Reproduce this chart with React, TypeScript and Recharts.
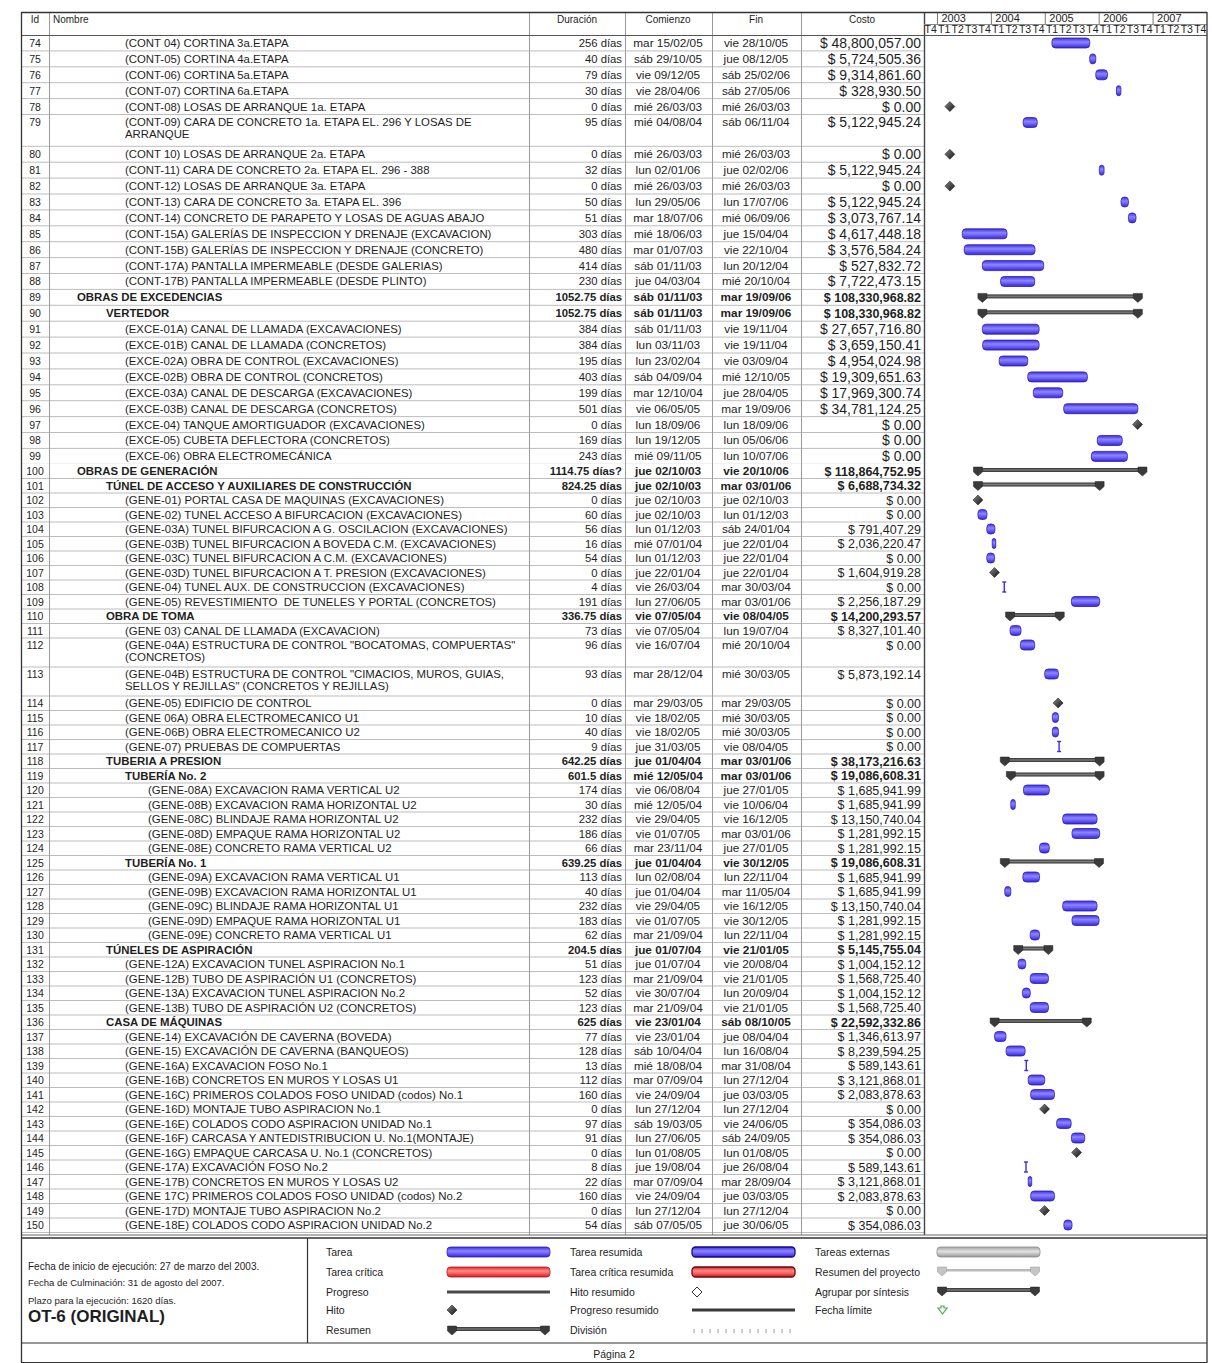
import React from "react";
import { BarChart, Bar, XAxis, YAxis, CartesianGrid } from "recharts";

document.body.style.margin = "0";

const FONT = "'Liberation Sans', Arial, Helvetica, sans-serif";
const INK = "#1e1e1e";

// ---------- table / gantt data ----------
const taskIds = [
  74, 75, 76, 77, 78, 79, 80, 81, 82, 83, 84, 85, 86, 87, 88, 89, 90, 91, 92, 93, 94, 95, 96, 97, 98, 99,
  100, 101, 102, 103, 104, 105, 106, 107, 108, 109, 110, 111, 112, 113, 114, 115, 116, 117, 118, 119, 120,
  121, 122, 123, 124, 125, 126, 127, 128, 129, 130, 131, 132, 133, 134, 135, 136, 137, 138, 139, 140, 141,
  142, 143, 144, 145, 146, 147, 148, 149, 150,
];

const taskNames = [
  "(CONT 04) CORTINA 3a.ETAPA",
  "(CONT-05) CORTINA 4a.ETAPA",
  "(CONT-06) CORTINA 5a.ETAPA",
  "(CONT-07) CORTINA 6a.ETAPA",
  "(CONT-08) LOSAS DE ARRANQUE 1a. ETAPA",
  "(CONT-09) CARA DE CONCRETO 1a. ETAPA EL. 296 Y LOSAS DE\nARRANQUE",
  "(CONT 10) LOSAS DE ARRANQUE 2a. ETAPA",
  "(CONT-11) CARA DE CONCRETO 2a. ETAPA EL. 296 - 388",
  "(CONT-12) LOSAS DE ARRANQUE 3a. ETAPA",
  "(CONT-13) CARA DE CONCRETO 3a. ETAPA EL. 396",
  "(CONT-14) CONCRETO DE PARAPETO Y LOSAS DE AGUAS ABAJO",
  "(CONT-15A) GALERÍAS DE INSPECCION Y DRENAJE (EXCAVACION)",
  "(CONT-15B) GALERÍAS DE INSPECCION Y DRENAJE (CONCRETO)",
  "(CONT-17A) PANTALLA IMPERMEABLE (DESDE GALERIAS)",
  "(CONT-17B) PANTALLA IMPERMEABLE (DESDE PLINTO)",
  "OBRAS DE EXCEDENCIAS",
  "VERTEDOR",
  "(EXCE-01A) CANAL DE LLAMADA (EXCAVACIONES)",
  "(EXCE-01B) CANAL DE LLAMADA (CONCRETOS)",
  "(EXCE-02A) OBRA DE CONTROL (EXCAVACIONES)",
  "(EXCE-02B) OBRA DE CONTROL (CONCRETOS)",
  "(EXCE-03A) CANAL DE DESCARGA (EXCAVACIONES)",
  "(EXCE-03B) CANAL DE DESCARGA (CONCRETOS)",
  "(EXCE-04) TANQUE AMORTIGUADOR (EXCAVACIONES)",
  "(EXCE-05) CUBETA DEFLECTORA (CONCRETOS)",
  "(EXCE-06) OBRA ELECTROMECÁNICA",
  "OBRAS DE GENERACIÓN",
  "TÚNEL DE ACCESO Y AUXILIARES DE CONSTRUCCIÓN",
  "(GENE-01) PORTAL CASA DE MAQUINAS (EXCAVACIONES)",
  "(GENE-02) TUNEL ACCESO A BIFURCACION (EXCAVACIONES)",
  "(GENE-03A) TUNEL BIFURCACION A G. OSCILACION (EXCAVACIONES)",
  "(GENE-03B) TUNEL BIFURCACION A BOVEDA C.M. (EXCAVACIONES)",
  "(GENE-03C) TUNEL BIFURCACION A C.M. (EXCAVACIONES)",
  "(GENE-03D) TUNEL BIFURCACION A T. PRESION (EXCAVACIONES)",
  "(GENE-04) TUNEL AUX. DE CONSTRUCCION (EXCAVACIONES)",
  "(GENE-05) REVESTIMIENTO  DE TUNELES Y PORTAL (CONCRETOS)",
  "OBRA DE TOMA",
  "(GENE 03) CANAL DE LLAMADA (EXCAVACION)",
  "(GENE-04A) ESTRUCTURA DE CONTROL \"BOCATOMAS, COMPUERTAS\"\n(CONCRETOS)",
  "(GENE-04B) ESTRUCTURA DE CONTROL \"CIMACIOS, MUROS, GUIAS,\nSELLOS Y REJILLAS\" (CONCRETOS Y REJILLAS)",
  "(GENE-05) EDIFICIO DE CONTROL",
  "(GENE 06A) OBRA ELECTROMECANICO U1",
  "(GENE-06B) OBRA ELECTROMECANICO U2",
  "(GENE-07) PRUEBAS DE COMPUERTAS",
  "TUBERIA A PRESION",
  "TUBERÍA No. 2",
  "(GENE-08A) EXCAVACION RAMA VERTICAL U2",
  "(GENE-08B) EXCAVACION RAMA HORIZONTAL U2",
  "(GENE-08C) BLINDAJE RAMA HORIZONTAL U2",
  "(GENE-08D) EMPAQUE RAMA HORIZONTAL U2",
  "(GENE-08E) CONCRETO RAMA VERTICAL U2",
  "TUBERÍA No. 1",
  "(GENE-09A) EXCAVACION RAMA VERTICAL U1",
  "(GENE-09B) EXCAVACION RAMA HORIZONTAL U1",
  "(GENE-09C) BLINDAJE RAMA HORIZONTAL U1",
  "(GENE-09D) EMPAQUE RAMA HORIZONTAL U1",
  "(GENE-09E) CONCRETO RAMA VERTICAL U1",
  "TÚNELES DE ASPIRACIÓN",
  "(GENE-12A) EXCAVACION TUNEL ASPIRACION No.1",
  "(GENE-12B) TUBO DE ASPIRACIÓN U1 (CONCRETOS)",
  "(GENE-13A) EXCAVACION TUNEL ASPIRACION No.2",
  "(GENE-13B) TUBO DE ASPIRACIÓN U2 (CONCRETOS)",
  "CASA DE MÁQUINAS",
  "(GENE-14) EXCAVACIÓN DE CAVERNA (BOVEDA)",
  "(GENE-15) EXCAVACIÓN DE CAVERNA (BANQUEOS)",
  "(GENE-16A) EXCAVACION FOSO No.1",
  "(GENE-16B) CONCRETOS EN MUROS Y LOSAS U1",
  "(GENE-16C) PRIMEROS COLADOS FOSO UNIDAD (codos) No.1",
  "(GENE-16D) MONTAJE TUBO ASPIRACION No.1",
  "(GENE-16E) COLADOS CODO ASPIRACION UNIDAD No.1",
  "(GENE-16F) CARCASA Y ANTEDISTRIBUCION U. No.1(MONTAJE)",
  "(GENE-16G) EMPAQUE CARCASA U. No.1 (CONCRETOS)",
  "(GENE-17A) EXCAVACIÓN FOSO No.2",
  "(GENE-17B) CONCRETOS EN MUROS Y LOSAS U2",
  "(GENE 17C) PRIMEROS COLADOS FOSO UNIDAD (codos) No.2",
  "(GENE-17D) MONTAJE TUBO ASPIRACION No.2",
  "(GENE-18E) COLADOS CODO ASPIRACION UNIDAD No.2",
];

const taskLevels = [
  3, 3, 3, 3, 3, 3, 3, 3, 3, 3, 3, 3, 3, 3, 3, 1, 2, 3, 3, 3, 3, 3, 3, 3, 3, 3,
  1, 2, 3, 3, 3, 3, 3, 3, 3, 3, 2, 3, 3, 3, 3, 3, 3, 3, 2, 3, 4, 4, 4, 4, 4,
  3, 4, 4, 4, 4, 4, 2, 3, 3, 3, 3, 2, 3, 3, 3, 3, 3, 3, 3, 3, 3, 3, 3, 3, 3, 3,
];

const summaryIds = [89, 90, 100, 101, 110, 118, 119, 125, 131, 136];

const durations = [
  "256 días", "40 días", "79 días", "30 días", "0 días", "95 días", "0 días", "32 días", "0 días", "50 días",
  "51 días", "303 días", "480 días", "414 días", "230 días", "1052.75 días", "1052.75 días", "384 días",
  "384 días", "195 días", "403 días", "199 días", "501 días", "0 días", "169 días", "243 días",
  "1114.75 días?", "824.25 días", "0 días", "60 días", "56 días", "16 días", "54 días", "0 días", "4 días",
  "191 días", "336.75 días", "73 días", "96 días", "93 días", "0 días", "10 días", "40 días", "9 días",
  "642.25 días", "601.5 días", "174 días", "30 días", "232 días", "186 días", "66 días", "639.25 días",
  "113 días", "40 días", "232 días", "183 días", "62 días", "204.5 días", "51 días", "123 días", "52 días",
  "123 días", "625 días", "77 días", "128 días", "13 días", "112 días", "160 días", "0 días", "97 días",
  "91 días", "0 días", "8 días", "22 días", "160 días", "0 días", "54 días",
];

const startDates = [
  "mar 15/02/05", "sáb 29/10/05", "vie 09/12/05", "vie 28/04/06", "mié 26/03/03", "mié 04/08/04",
  "mié 26/03/03", "lun 02/01/06", "mié 26/03/03", "lun 29/05/06", "mar 18/07/06", "mié 18/06/03",
  "mar 01/07/03", "sáb 01/11/03", "jue 04/03/04", "sáb 01/11/03", "sáb 01/11/03", "sáb 01/11/03",
  "lun 03/11/03", "lun 23/02/04", "sáb 04/09/04", "mar 12/10/04", "vie 06/05/05", "lun 18/09/06",
  "lun 19/12/05", "mié 09/11/05", "jue 02/10/03", "jue 02/10/03", "jue 02/10/03", "jue 02/10/03",
  "lun 01/12/03", "mié 07/01/04", "lun 01/12/03", "jue 22/01/04", "vie 26/03/04", "lun 27/06/05",
  "vie 07/05/04", "vie 07/05/04", "vie 16/07/04", "mar 28/12/04", "mar 29/03/05", "vie 18/02/05",
  "vie 18/02/05", "jue 31/03/05", "jue 01/04/04", "mié 12/05/04", "vie 06/08/04", "mié 12/05/04",
  "vie 29/04/05", "vie 01/07/05", "mar 23/11/04", "jue 01/04/04", "lun 02/08/04", "jue 01/04/04",
  "vie 29/04/05", "vie 01/07/05", "mar 21/09/04", "jue 01/07/04", "jue 01/07/04", "mar 21/09/04",
  "vie 30/07/04", "mar 21/09/04", "vie 23/01/04", "vie 23/01/04", "sáb 10/04/04", "mié 18/08/04",
  "mar 07/09/04", "vie 24/09/04", "lun 27/12/04", "sáb 19/03/05", "lun 27/06/05", "lun 01/08/05",
  "jue 19/08/04", "mar 07/09/04", "vie 24/09/04", "lun 27/12/04", "sáb 07/05/05",
];

const endDates = [
  "vie 28/10/05", "jue 08/12/05", "sáb 25/02/06", "sáb 27/05/06", "mié 26/03/03", "sáb 06/11/04",
  "mié 26/03/03", "jue 02/02/06", "mié 26/03/03", "lun 17/07/06", "mié 06/09/06", "jue 15/04/04",
  "vie 22/10/04", "lun 20/12/04", "mié 20/10/04", "mar 19/09/06", "mar 19/09/06", "vie 19/11/04",
  "vie 19/11/04", "vie 03/09/04", "mié 12/10/05", "jue 28/04/05", "mar 19/09/06", "lun 18/09/06",
  "lun 05/06/06", "lun 10/07/06", "vie 20/10/06", "mar 03/01/06", "jue 02/10/03", "lun 01/12/03",
  "sáb 24/01/04", "jue 22/01/04", "jue 22/01/04", "jue 22/01/04", "mar 30/03/04", "mar 03/01/06",
  "vie 08/04/05", "lun 19/07/04", "mié 20/10/04", "mié 30/03/05", "mar 29/03/05", "mié 30/03/05",
  "mié 30/03/05", "vie 08/04/05", "mar 03/01/06", "mar 03/01/06", "jue 27/01/05", "vie 10/06/04",
  "vie 16/12/05", "mar 03/01/06", "jue 27/01/05", "vie 30/12/05", "lun 22/11/04", "mar 11/05/04",
  "vie 16/12/05", "vie 30/12/05", "lun 22/11/04", "vie 21/01/05", "vie 20/08/04", "vie 21/01/05",
  "lun 20/09/04", "vie 21/01/05", "sáb 08/10/05", "jue 08/04/04", "lun 16/08/04", "mar 31/08/04",
  "lun 27/12/04", "jue 03/03/05", "lun 27/12/04", "vie 24/06/05", "sáb 24/09/05", "lun 01/08/05",
  "jue 26/08/04", "mar 28/09/04", "jue 03/03/05", "lun 27/12/04", "jue 30/06/05",
];

const costs = [
  "$ 48,800,057.00", "$ 5,724,505.36", "$ 9,314,861.60", "$ 328,930.50", "$ 0.00", "$ 5,122,945.24",
  "$ 0.00", "$ 5,122,945.24", "$ 0.00", "$ 5,122,945.24", "$ 3,073,767.14", "$ 4,617,448.18",
  "$ 3,576,584.24", "$ 527,832.72", "$ 7,722,473.15", "$ 108,330,968.82", "$ 108,330,968.82",
  "$ 27,657,716.80", "$ 3,659,150.41", "$ 4,954,024.98", "$ 19,309,651.63", "$ 17,969,300.74",
  "$ 34,781,124.25", "$ 0.00", "$ 0.00", "$ 0.00", "$ 118,864,752.95", "$ 6,688,734.32", "$ 0.00",
  "$ 0.00", "$ 791,407.29", "$ 2,036,220.47", "$ 0.00", "$ 1,604,919.28", "$ 0.00", "$ 2,256,187.29",
  "$ 14,200,293.57", "$ 8,327,101.40", "$ 0.00", "$ 5,873,192.14", "$ 0.00", "$ 0.00", "$ 0.00", "$ 0.00",
  "$ 38,173,216.63", "$ 19,086,608.31", "$ 1,685,941.99", "$ 1,685,941.99", "$ 13,150,740.04",
  "$ 1,281,992.15", "$ 1,281,992.15", "$ 19,086,608.31", "$ 1,685,941.99", "$ 1,685,941.99",
  "$ 13,150,740.04", "$ 1,281,992.15", "$ 1,281,992.15", "$ 5,145,755.04", "$ 1,004,152.12",
  "$ 1,568,725.40", "$ 1,004,152.12", "$ 1,568,725.40", "$ 22,592,332.86", "$ 1,346,613.97",
  "$ 8,239,594.25", "$ 589,143.61", "$ 3,121,868.01", "$ 2,083,878.63", "$ 0.00", "$ 354,086.03",
  "$ 354,086.03", "$ 0.00", "$ 589,143.61", "$ 3,121,868.01", "$ 2,083,878.63", "$ 0.00", "$ 354,086.03",
];

// ---------- timescale ----------
const yearTicks = [2003, 2004, 2005, 2006, 2007];
const quarterLabels = [
  "T4", "T1", "T2", "T3", "T4", "T1", "T2", "T3", "T4", "T1", "T2", "T3", "T4",
  "T1", "T2", "T3", "T4", "T1", "T2", "T3", "T4",
];
const TIME_DOMAIN: [number, number] = [2002.75, 2008];
const quarterTicks = quarterLabels.map((_, i) => TIME_DOMAIN[0] + 0.125 + 0.25 * i);

// ---------- layout ----------
const LEFT = 21;
const CHART_W = 1186;
const TABLE_W = 903;
const HEAD_H = 23;
const BAND_A = 15.9;
const BAND_B = 14.5;
const levelX: Record<number, number> = { 1: 56, 2: 85, 3: 104, 4: 127 };

const toYear = (s: string, endOfDay: boolean) => {
  const [d, m, y] = s.split(" ")[1].split("/").map(Number);
  const yr = 2000 + y;
  const t = Date.UTC(yr, m - 1, d) + (endOfDay ? 86400000 : 0);
  const y0 = Date.UTC(yr, 0, 1);
  const y1 = Date.UTC(yr + 1, 0, 1);
  return yr + (t - y0) / (y1 - y0);
};

type GanttRow = { key: string; range: [number, number]; kind: string };

const keyToIndex: Record<string, number> = {};
taskIds.forEach((id, i) => (keyToIndex[String(id)] = i));

const buildRows = (from: number, to: number) => {
  const out: GanttRow[] = [];
  taskIds.forEach((id, i) => {
    if (id < from || id > to) return;
    const isMs = durations[i].startsWith("0 ");
    const kind = summaryIds.includes(id) ? "summary" : isMs ? "milestone" : "task";
    const s = toYear(startDates[i], false);
    const e = isMs ? s : toYear(endDates[i], true);
    out.push({ key: String(id), range: [s, e], kind });
    const extra = taskNames[i].split("\n").length - 1;
    for (let k = 0; k < extra; k++) {
      out.push({ key: `${id}+${k}`, range: [TIME_DOMAIN[0], TIME_DOMAIN[0]], kind: "blank" });
    }
  });
  return out;
};

const rowsA = buildRows(74, 99);
const rowsB = buildRows(100, 150);

// ---------- mark shapes ----------
const Diamond = ({ cx, cy, hollow = false }: { cx: number; cy: number; hollow?: boolean }) => (
  <path
    d={`M${cx},${cy - 5} L${cx + 5},${cy} L${cx},${cy + 5} L${cx - 5},${cy} Z`}
    fill={hollow ? "#fff" : "url(#msGrad)"}
    stroke={hollow ? "#333" : "#111"}
    strokeWidth={hollow ? 1 : 0.5}
  />
);

const capPath = (cx: number, cy: number) =>
  `M${cx - 4.5},${cy - 4} H${cx + 4.5} V${cy + 1} L${cx},${cy + 5} L${cx - 4.5},${cy + 1} Z`;

const SummaryBar = ({ x1, x2, cy, light = false }: { x1: number; x2: number; cy: number; light?: boolean }) => (
  <g>
    <rect x={x1} y={light ? cy - 2 : cy - 3} width={x2 - x1} height={light ? 2.5 : 4}
      fill={light ? "#b9b9b9" : "url(#sumGrad)"} />
    <path d={capPath(x1, cy)} fill={light ? "#c4c4c4" : "#3a3a3a"} stroke={light ? "#999" : "#222"} strokeWidth={0.5} />
    <path d={capPath(x2, cy)} fill={light ? "#c4c4c4" : "#3a3a3a"} stroke={light ? "#999" : "#222"} strokeWidth={0.5} />
  </g>
);

const TaskBar = ({ x, w, cy, fill, stroke, sw = 0.8 }: { x: number; w: number; cy: number; fill: string; stroke: string; sw?: number }) => {
  if (w < 2.2) {
    const cx = x + w / 2;
    return (
      <g stroke="#3a2ee0" strokeWidth={1.4}>
        <line x1={cx} x2={cx} y1={cy - 5} y2={cy + 5} />
        <line x1={cx - 2} x2={cx + 2} y1={cy - 5} y2={cy - 5} />
        <line x1={cx - 2} x2={cx + 2} y1={cy + 5} y2={cy + 5} />
      </g>
    );
  }
  const ww = Math.max(w, 3.5);
  return <rect x={x} y={cy - 5} width={ww} height={10} rx={Math.min(3.5, ww / 2)} fill={fill} stroke={stroke} strokeWidth={sw} />;
};

const GanttShape = (props: any) => {
  const { x, y, width, height } = props;
  const kind = props.payload?.kind ?? props.kind;
  const cy = y + height / 2;
  if (kind === "blank") return <g />;
  if (kind === "milestone") return <Diamond cx={x} cy={cy} />;
  if (kind === "summary") return <SummaryBar x1={x} x2={x + width} cy={cy} />;
  return <TaskBar x={x} w={width} cy={cy} fill="url(#taskGrad)" stroke="#2c20b8" />;
};

// ---------- axis ticks ----------
const RowTick = (props: any) => {
  const { x, y, payload, band } = props;
  const i = keyToIndex[String(payload.value)];
  if (i === undefined) return <g />;
  const left = x - TABLE_W;
  const top = y - band / 2;
  const lines = taskNames[i].split("\n");
  const isSum = summaryIds.includes(taskIds[i]);
  const upper = taskIds[i] < 100;
  const fw = isSum ? 700 : 400;
  const base = y + 4;
  const costSize = isSum ? 12.5 : upper ? 14 : 12.5;
  return (
    <g fontFamily={FONT} fill={INK}>
      <line x1={left} x2={left + TABLE_W} y1={top + band * lines.length} y2={top + band * lines.length} stroke="#bdbdbd" />
      <text x={left + 14} y={base} textAnchor="middle" fontSize={10.5}>{taskIds[i]}</text>
      {lines.map((ln, k) => (
        <text key={k} x={left + levelX[taskLevels[i]]} y={base + k * 12} fontSize={11.4} fontWeight={fw} xmlSpace="preserve">
          {ln}
        </text>
      ))}
      <text x={left + 601} y={base} textAnchor="end" fontSize={11.3} fontWeight={fw}>{durations[i]}</text>
      <text x={left + 647} y={base} textAnchor="middle" fontSize={11.8} fontWeight={fw}>{startDates[i]}</text>
      <text x={left + 735} y={base} textAnchor="middle" fontSize={11.8} fontWeight={fw}>{endDates[i]}</text>
      <text x={left + 900} y={y + (costSize > 13 ? 5 : 4.5)} textAnchor="end" fontSize={costSize} fontWeight={fw}>
        {costs[i]}
      </text>
    </g>
  );
};

const QuarterTick = (props: any) => (
  <text x={props.x} y={props.y - 2} textAnchor="middle" fontSize={10.5} fontFamily={FONT} fill={INK}>
    {quarterLabels[props.index]}
  </text>
);

const YearTick = (props: any) => (
  <g>
    <line x1={props.x} x2={props.x} y1={props.y - 12} y2={props.y} stroke="#777" />
    <text x={props.x + 4} y={props.y - 2} fontSize={11} fontFamily={FONT} fill={INK}>
      {props.payload.value}
    </text>
  </g>
);

const yearGrid = ({ xAxis }: any) =>
  xAxis && typeof xAxis.scale === "function" ? yearTicks.map((v) => xAxis.scale(v)) : [];

// ---------- legend ----------
const legendCol1 = ["Tarea", "Tarea crítica", "Progreso", "Hito", "Resumen"];
const legendCol2 = ["Tarea resumida", "Tarea crítica resumida", "Hito resumido", "Progreso resumido", "División"];
const legendCol3 = ["Tareas externas", "Resumen del proyecto", "Agrupar por síntesis", "Fecha límite"];
const legendRowsY = [1252, 1272, 1292, 1310, 1330];
const projectNotes = [
  "Fecha de inicio de ejecución: 27 de marzo del 2003.",
  "Fecha de Culminación: 31 de agosto del 2007.",
  "Plazo para la ejecución: 1620 días.",
];

const Legend = () => {
  const s1 = 447, s2 = 692, s3 = 937, sw = 103;
  return (
    <g fontFamily={FONT} fill={INK}>
      {projectNotes.map((t, i) => (
        <text key={t} x={28} y={[1270, 1286, 1304][i]} fontSize={i === 0 ? 10 : 9.5}>{t}</text>
      ))}
      <text x={28} y={1322} fontSize={17} fontWeight={700}>OT-6 (ORIGINAL)</text>
      {legendCol1.map((t, i) => <text key={t} x={326} y={legendRowsY[i] + 4} fontSize={10.5}>{t}</text>)}
      {legendCol2.map((t, i) => <text key={t} x={570} y={legendRowsY[i] + 4} fontSize={10.5}>{t}</text>)}
      {legendCol3.map((t, i) => <text key={t} x={815} y={legendRowsY[i] + 4} fontSize={10.5}>{t}</text>)}

      <TaskBar x={s1} w={sw} cy={1252} fill="url(#taskGrad)" stroke="#2c20b8" />
      <TaskBar x={s1} w={sw} cy={1272} fill="url(#critGrad)" stroke="#b01818" />
      <rect x={s1} y={1290.5} width={sw} height={3} fill="#4a4a4a" />
      <Diamond cx={s1 + 5} cy={1310} />
      <SummaryBar x1={s1 + 5} x2={s1 + sw - 5} cy={1330} />

      <TaskBar x={s2} w={sw} cy={1252} fill="url(#taskGrad)" stroke="#140a80" sw={1.3} />
      <TaskBar x={s2} w={sw} cy={1272} fill="url(#critGrad)" stroke="#6a0a0a" sw={1.3} />
      <Diamond cx={s2 + 5} cy={1292} hollow />
      <rect x={s2} y={1308.5} width={sw} height={3} fill="#3a3a3a" />
      {Array.from({ length: 13 }).map((_, k) => (
        <line key={k} x1={s2 + 2 + k * 8} x2={s2 + 2 + k * 8} y1={1329} y2={1333} stroke="#999" />
      ))}

      <TaskBar x={s3} w={sw} cy={1252} fill="url(#extGrad)" stroke="#8a8a8a" />
      <SummaryBar x1={s3 + 5} x2={s3 + sw - 5} cy={1271} light />
      <SummaryBar x1={s3 + 5} x2={s3 + sw - 5} cy={1291} />
      <path
        d={`M${s3 + 1},1306 h3 v-2 h3 v2 h3 l-4.5,6 z`}
        transform="translate(0,2)"
        fill="#fff"
        stroke="#4caf50"
        strokeWidth={1.2}
      />
      <text x={614} y={1358} textAnchor="middle" fontSize={10.5}>Página 2</text>
    </g>
  );
};

// ---------- frame ----------
const tableCols = [49, 529, 625, 712, 801];
const tableHeaders = [
  { t: "Id", x: 35, a: "middle" },
  { t: "Nombre", x: 53, a: "start" },
  { t: "Duración", x: 577, a: "middle" },
  { t: "Comienzo", x: 668, a: "middle" },
  { t: "Fin", x: 756, a: "middle" },
  { t: "Costo", x: 862, a: "middle" },
];

const Frame = () => (
  <svg width={1212} height={1363} style={{ position: "absolute", left: 0, top: 0, pointerEvents: "none" }}>
    {tableCols.map((c) => (
      <line key={c} x1={c + 0.5} x2={c + 0.5} y1={12} y2={1235} stroke="#9a9a9a" />
    ))}
    <line x1={924.5} x2={924.5} y1={12} y2={1235} stroke="#444" strokeWidth={1.4} />
    <line x1={924} x2={1207} y1={24.5} y2={24.5} stroke="#888" />
    <line x1={21} x2={1207} y1={35.5} y2={35.5} stroke="#555" />
    <line x1={21} x2={1207} y1={12.5} y2={12.5} stroke="#333" strokeWidth={1.3} />
    <line x1={21} x2={1207} y1={1235} y2={1235} stroke="#666" />
    <line x1={21} x2={1207} y1={1238} y2={1238} stroke="#333" strokeWidth={1.3} />
    <line x1={307.5} x2={307.5} y1={1238} y2={1343} stroke="#333" strokeWidth={1.2} />
    <line x1={21} x2={1207} y1={1343} y2={1343} stroke="#333" strokeWidth={1.2} />
    <line x1={21} x2={1207} y1={1362.5} y2={1362.5} stroke="#333" strokeWidth={1.2} />
    <line x1={21.5} x2={21.5} y1={12} y2={1363} stroke="#333" strokeWidth={1.3} />
    <line x1={1207} x2={1207} y1={12} y2={1363} stroke="#333" strokeWidth={1.3} />
    <g fontFamily={FONT} fill={INK} fontSize={10}>
      {tableHeaders.map((h) => (
        <text key={h.t} x={h.x} y={23} textAnchor={h.a as any}>{h.t}</text>
      ))}
    </g>
    <Legend />
  </svg>
);

const Defs = () => (
  <svg width={0} height={0} style={{ position: "absolute" }}>
    <defs>
      <linearGradient id="taskGrad" x1="0" y1="0" x2="0" y2="1">
        <stop offset="0" stopColor="#3b2de2" />
        <stop offset="0.4" stopColor="#8d85ff" />
        <stop offset="0.62" stopColor="#7064ff" />
        <stop offset="1" stopColor="#3326cc" />
      </linearGradient>
      <linearGradient id="critGrad" x1="0" y1="0" x2="0" y2="1">
        <stop offset="0" stopColor="#e02a2a" />
        <stop offset="0.4" stopColor="#ff8c8c" />
        <stop offset="0.62" stopColor="#ff6060" />
        <stop offset="1" stopColor="#cc1f1f" />
      </linearGradient>
      <linearGradient id="extGrad" x1="0" y1="0" x2="0" y2="1">
        <stop offset="0" stopColor="#a6a6a6" />
        <stop offset="0.45" stopColor="#e2e2e2" />
        <stop offset="1" stopColor="#999" />
      </linearGradient>
      <linearGradient id="sumGrad" x1="0" y1="0" x2="0" y2="1">
        <stop offset="0" stopColor="#2e2e2e" />
        <stop offset="0.5" stopColor="#7a7a7a" />
        <stop offset="1" stopColor="#2e2e2e" />
      </linearGradient>
      <linearGradient id="msGrad" x1="0" y1="0" x2="1" y2="1">
        <stop offset="0" stopColor="#888" />
        <stop offset="1" stopColor="#111" />
      </linearGradient>
    </defs>
  </svg>
);

export default function App() {
  return (
    <div style={{ position: "relative", width: 1212, height: 1363, background: "#fff", overflow: "hidden" }}>
      <Defs />
      <div style={{ position: "absolute", left: LEFT, top: 12 }}>
        <BarChart
          layout="vertical"
          width={CHART_W}
          height={HEAD_H + rowsA.length * BAND_A}
          data={rowsA}
          margin={{ top: 0, right: 0, bottom: 0, left: 0 }}
          barSize={10}
        >
          <CartesianGrid horizontal={false} verticalCoordinatesGenerator={yearGrid} stroke="#b8b8b8" />
          <XAxis
            xAxisId={0}
            type="number"
            orientation="top"
            domain={TIME_DOMAIN}
            ticks={quarterTicks}
            height={11}
            interval={0}
            allowDataOverflow
            axisLine={false}
            tickLine={false}
            tickSize={0}
            tickMargin={0}
            tick={<QuarterTick />}
          />
          <XAxis
            xAxisId="years"
            type="number"
            orientation="top"
            domain={TIME_DOMAIN}
            ticks={yearTicks}
            height={12}
            interval={0}
            allowDataOverflow
            axisLine={false}
            tickLine={false}
            tickSize={0}
            tickMargin={0}
            tick={<YearTick />}
          />
          <YAxis
            type="category"
            dataKey="key"
            width={TABLE_W}
            interval={0}
            axisLine={false}
            tickLine={false}
            tickSize={0}
            tickMargin={0}
            tick={<RowTick band={BAND_A} />}
          />
          <Bar xAxisId={0} dataKey="range" shape={GanttShape} isAnimationActive={false} />
        </BarChart>
      </div>
      <div style={{ position: "absolute", left: LEFT, top: 12 + HEAD_H + rowsA.length * BAND_A }}>
        <BarChart
          layout="vertical"
          width={CHART_W}
          height={rowsB.length * BAND_B}
          data={rowsB}
          margin={{ top: 0, right: 0, bottom: 0, left: 0 }}
          barSize={10}
        >
          <CartesianGrid horizontal={false} verticalCoordinatesGenerator={yearGrid} stroke="#b8b8b8" />
          <XAxis type="number" domain={TIME_DOMAIN} hide allowDataOverflow />
          <YAxis
            type="category"
            dataKey="key"
            width={TABLE_W}
            interval={0}
            axisLine={false}
            tickLine={false}
            tickSize={0}
            tickMargin={0}
            tick={<RowTick band={BAND_B} />}
          />
          <Bar dataKey="range" shape={GanttShape} isAnimationActive={false} />
        </BarChart>
      </div>
      <Frame />
    </div>
  );
}
